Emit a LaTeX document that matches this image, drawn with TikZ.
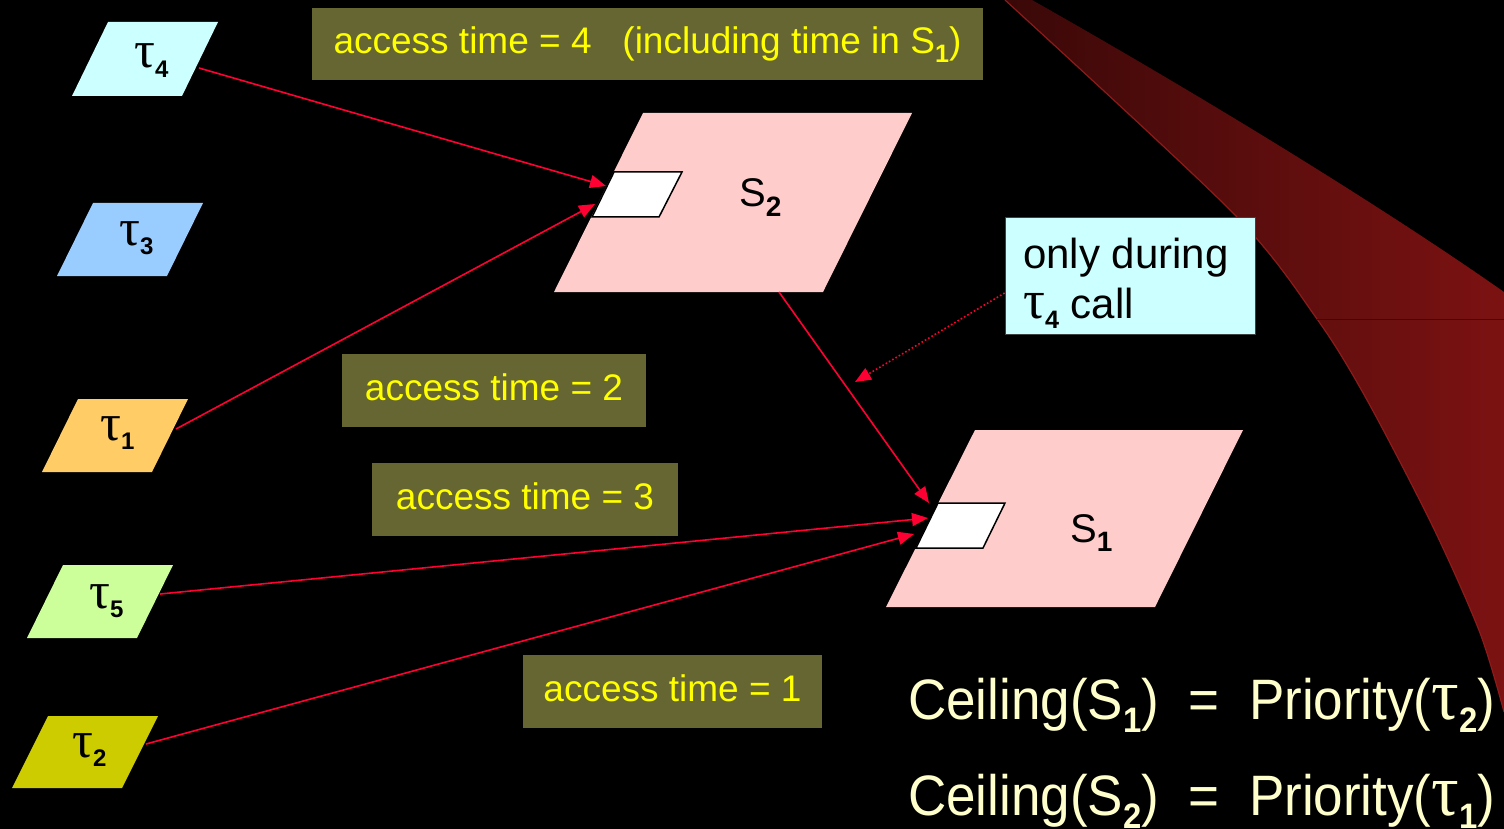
\documentclass[tikz,border=0pt]{standalone}
\usepackage{fontspec}
\setmainfont{Liberation Sans}
\newfontfamily\taufont{Liberation Serif}
\usetikzlibrary{arrows.meta}
\definecolor{bgredA}{HTML}{3A0808}
\definecolor{bgredB}{HTML}{7C1212}
\definecolor{edgered}{HTML}{8E1A1A}
\definecolor{arrowred}{HTML}{FF0033}
\definecolor{olivebox}{HTML}{666633}
\definecolor{accyellow}{HTML}{FFFF00}
\definecolor{paleyellow}{HTML}{FFFFCC}
\definecolor{tauA}{HTML}{CCFFFF}
\definecolor{tauB}{HTML}{99CCFF}
\definecolor{tauC}{HTML}{FFCC66}
\definecolor{tauD}{HTML}{CCFF99}
\definecolor{tauE}{HTML}{CCCC00}
\definecolor{pinkS}{HTML}{FFCCCC}
\newcommand\lowsub[2][0.68]{\raisebox{-0.24em}{\scalebox{#1}{\bfseries #2}}}
\newcommand\tauch{{\taufont\scalebox{1.3}{τ}}}
\begin{document}
\begin{tikzpicture}[x=1pt,y=-1pt,
  accbox/.style={fill=olivebox, text=accyellow, inner sep=0pt,
    font=\fontsize{37}{44}\selectfont, text height=27pt, text depth=8pt},
  conn/.style={draw=arrowred, line width=1.6pt, -{Triangle[length=16pt,width=13pt]}},
  taulabel/.style={anchor=base west, inner sep=0pt, font=\fontsize{40}{46}\selectfont},
  slabel/.style={anchor=base west, inner sep=0pt, font=\fontsize{40}{46}\selectfont},
  ceil/.style={anchor=base west, inner sep=0pt, text=paleyellow, font=\fontsize{57}{60}\selectfont},
  outerpara/.style={fill=pinkS},
  innerpara/.style={fill=white, draw=black, line width=1.5pt, line join=miter}]
\useasboundingbox (0,0) rectangle (1504,829);
\fill[black] (0,0) rectangle (1504,829);
% red swoosh
\shade[left color=bgredA, right color=bgredB]
  (1005,0) -- (1032,0) .. controls (1200,95) and (1380,205) .. (1504,292)
  -- (1504,712) -- plot[smooth] coordinates {(1504,712) (1480,633) (1433,527) (1367,400) (1317,319) (1233,213) (1005,0)} -- cycle;
\draw[edgered, line width=1.2pt] plot[smooth] coordinates {(1504,712) (1480,633) (1433,527) (1367,400) (1317,319) (1233,213) (1005,0)};
\draw[bgredA, line width=0.8pt] (1317,319) -- (1504,319);
% access time boxes
\node[accbox, minimum width=671pt, minimum height=72pt] (a4) at (647.5,44) {access time = 4\ \ \ (including time in S\lowsub{1})};
\node[accbox, minimum width=304pt, minimum height=73pt] (a2) at (494,390.5) {access time = 2};
\node[accbox, minimum width=306pt, minimum height=73pt] (a3) at (525,499.5) {access time = 3};
\node[accbox, minimum width=299pt, minimum height=73pt] (a1) at (672.5,691.5) {access time = 1};
% task parallelograms
\fill[tauA] (108,22) -- ++(110,0) -- ++(-36,74) -- ++(-110,0) -- cycle;
\fill[tauB] (93,203) -- ++(110,0) -- ++(-36,73) -- ++(-110,0) -- cycle;
\fill[tauC] (78,399) -- ++(110,0) -- ++(-36,73) -- ++(-110,0) -- cycle;
\fill[tauD] (63,565) -- ++(110,0) -- ++(-36,73) -- ++(-110,0) -- cycle;
\fill[tauE] (48,716) -- ++(110,0) -- ++(-36,72) -- ++(-110,0) -- cycle;
\node[taulabel] (t4) at (134,68) {\tauch\lowsub[0.6]{4}};
\node[taulabel] (t3) at (119,245) {\tauch\lowsub[0.6]{3}};
\node[taulabel] (t1) at (100,440) {\tauch\lowsub[0.6]{1}};
\node[taulabel] (t5) at (89,608) {\tauch\lowsub[0.6]{5}};
\node[taulabel] (t2) at (72,757) {\tauch\lowsub[0.6]{2}};
% semaphores
\fill[outerpara] (643,113) -- (912,113) -- (823,292) -- (554,292) -- cycle;
\draw[innerpara] (614,172) -- (682,172) -- (659,217) -- (592,217) -- cycle;
\node[slabel] (s2) at (739,207) {S\lowsub[0.7]{2}};
\fill[outerpara] (975,430) -- (1243,430) -- (1155,607) -- (886,607) -- cycle;
\draw[innerpara] (938,503) -- (1005,503) -- (983,548) -- (916,548) -- cycle;
\node[slabel] (s1) at (1070,542) {S\lowsub[0.7]{1}};
% callout
\node[fill=tauA, draw=black!75, line width=0.8pt, minimum width=250pt, minimum height=117pt,
  inner sep=0pt] (call) at (1130,275.5) {};
\node[anchor=base west, align=left, inner sep=0pt, font=\fontsize{42}{50}\selectfont]
  (calltext) at (1023,318) {only during\\\tauch\lowsub[0.6]{4} call};
% connector end points
\coordinate (t4o) at (199,68);   \coordinate (s2inA) at (606,186);
\coordinate (t1o) at (176,429);  \coordinate (s2inB) at (595,204);
\coordinate (s2o) at (779,292);  \coordinate (s1inA) at (929,503);
\coordinate (t5o) at (160,594);  \coordinate (s1inB) at (928,518);
\coordinate (t2o) at (146,744);  \coordinate (s1inC) at (914,534);
\coordinate (dotend) at (855,382);
\draw[conn] (t4o) -- (s2inA);
\draw[conn] (t1o) -- (s2inB);
\draw[conn] (s2o) -- (s1inA);
\draw[conn] (t5o) -- (s1inB);
\draw[conn] (t2o) -- (s1inC);
\draw[conn, dash pattern=on 1.6pt off 2.2pt] ([yshift=-17.5pt]call.west) -- (dotend);
% ceiling formulas
\node[ceil] (c1) at (908,719) {\scalebox{0.93}[1]{Ceiling(S\lowsub[0.62]{1})\ \ =\ \ Priority(\tauch\lowsub[0.62]{2})}};
\node[ceil] (c2) at (908,815) {\scalebox{0.93}[1]{Ceiling(S\lowsub[0.62]{2})\ \ =\ \ Priority(\tauch\lowsub[0.62]{1})}};
\end{tikzpicture}
\end{document}
